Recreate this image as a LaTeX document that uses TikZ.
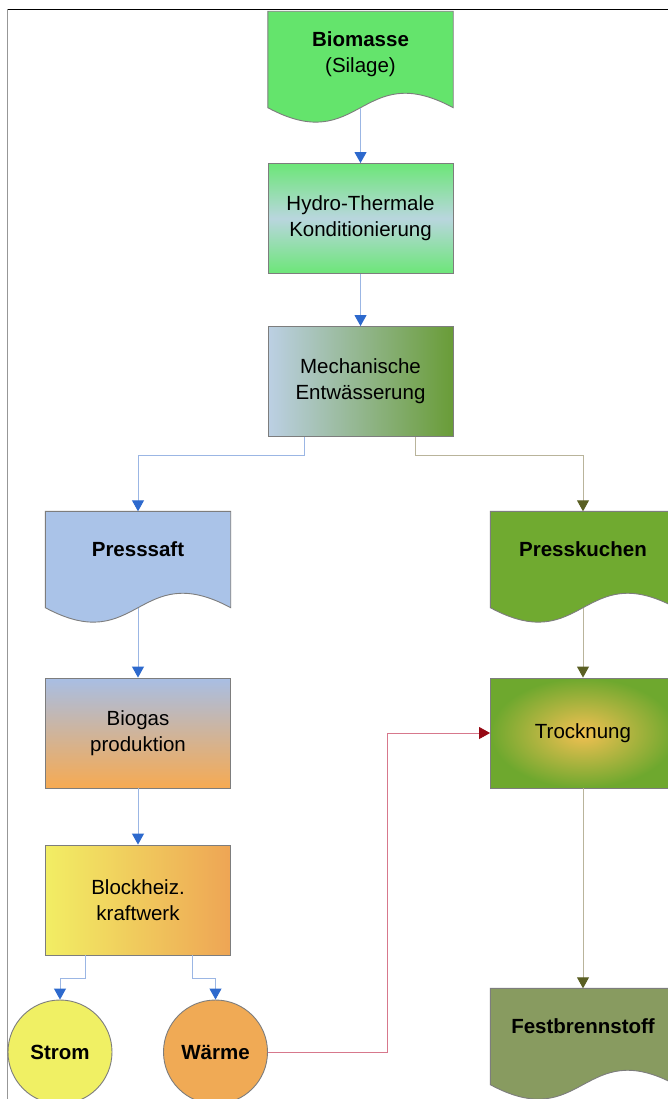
\documentclass[tikz,border=0pt]{standalone}
\usepackage{fontspec}
\setmainfont{Liberation Sans}
\usetikzlibrary{arrows.meta,calc,backgrounds}
\definecolor{boxgray}{RGB}{125,125,125}
\definecolor{lineblue}{RGB}{155,182,228}
\definecolor{headblue}{RGB}{45,105,205}
\definecolor{lineolive}{RGB}{185,180,155}
\definecolor{headolive}{RGB}{90,95,35}
\definecolor{linered}{RGB}{215,120,140}
\definecolor{headred}{RGB}{150,8,20}
\definecolor{biogreen}{RGB}{100,228,108}
\definecolor{hydgreen}{RGB}{108,230,120}
\definecolor{hydmid}{RGB}{185,214,222}
\definecolor{mechblue}{RGB}{188,208,228}
\definecolor{mechgreen}{RGB}{105,156,55}
\definecolor{psblue}{RGB}{170,195,232}
\definecolor{pkgreen}{RGB}{112,170,48}
\definecolor{bgtop}{RGB}{168,190,228}
\definecolor{bgbot}{RGB}{246,170,82}
\definecolor{bhyellow}{RGB}{242,238,100}
\definecolor{bhorange}{RGB}{238,165,85}
\definecolor{stromyellow}{RGB}{240,240,100}
\definecolor{waermeorange}{RGB}{240,170,85}
\definecolor{trinner}{RGB}{242,192,82}
\definecolor{trouter}{RGB}{110,168,46}
\definecolor{fbolive}{RGB}{136,155,96}
\newcommand\mydocpath[2]{%
  \begin{scope}[on background layer]
    \filldraw[fill=#2, draw=boxgray, line width=0.9pt]
      (#1.north west) -- (#1.north east) -- (#1.south east)
      .. controls ($(#1.south)+(0,-50)$) and ($(#1.south)+(0,50)$) .. (#1.south west) -- cycle;
  \end{scope}}
\begin{document}
\begin{tikzpicture}[x=1pt,y=-1pt,
  every node/.style={font=\fontsize{20.5}{26}\selectfont, align=center, text=black},
  procbox/.style={draw=boxgray, line width=0.9pt, minimum width=185pt, minimum height=110pt, inner sep=0pt},
  docbox/.style={minimum width=185pt, minimum height=96pt, inner sep=0pt,
    font=\fontsize{20.5}{26}\selectfont\bfseries},
  endcirc/.style={circle, draw=boxgray, line width=0.9pt, minimum size=104pt, inner sep=0pt,
    font=\fontsize{20.5}{26}\selectfont\bfseries},
  bluearrow/.style={draw=lineblue, line width=0.9pt, -{Triangle[color=headblue,width=12pt,length=11pt]}},
  olivearrow/.style={draw=lineolive, line width=0.9pt, -{Triangle[color=headolive,width=12pt,length=11pt]}},
  redarrow/.style={draw=linered, line width=0.9pt, -{Triangle[color=headred,width=12pt,length=11pt]}},
]
\useasboundingbox (0,0) rectangle (668,1099);
\begin{scope}[on background layer]
  \fill[white] (0,0) rectangle (668,1099);
\end{scope}
% frame lines
\draw[black, line width=1.1pt] (7,9.5) -- (668,9.5);
\draw[boxgray!80, line width=1pt] (7,9.5) -- (7,1099);

% top column
\node[docbox, text depth=14pt] (bio) at (360.5,59.5) {Biomasse\\\mdseries(Silage)};
\mydocpath{bio}{biogreen}
\node[procbox, top color=hydgreen, bottom color=hydgreen, middle color=hydmid] (hyd) at (360.5,218.5) {Hydro-Thermale\\Konditionierung};
\node[procbox, left color=mechblue, right color=mechgreen] (mech) at (360.5,381.5) {Mechanische\\Entwässerung};

% left column
\node[docbox, text depth=20pt] (ps) at (138,559.5) {Presssaft};
\mydocpath{ps}{psblue}
\node[procbox, top color=bgtop, bottom color=bgbot] (bg) at (138,733) {Biogas\\produktion};
\node[procbox, left color=bhyellow, right color=bhorange] (bhk) at (138,900) {Blockheiz.\\kraftwerk};
\node[endcirc, fill=stromyellow] (strom) at (60,1052) {Strom};
\node[endcirc, fill=waermeorange] (waerme) at (215.5,1052) {Wärme};

% right column
\node[docbox, text depth=20pt] (pk) at (583,559.5) {Presskuchen};
\mydocpath{pk}{pkgreen}
\node[procbox, inner color=trinner, outer color=trouter] (tr) at (583,733) {Trocknung};
\node[docbox, text depth=20pt] (fb) at (583,1036.5) {Festbrennstoff};
\mydocpath{fb}{fbolive}

% connectors
\draw[bluearrow] (bio.south) -- (hyd.north);
\draw[bluearrow] (hyd.south) -- (mech.north);
\draw[bluearrow] ($(mech.south west)!0.2!(mech.south east)$) -- ++(0,18) -| (ps.north);
\draw[olivearrow] ($(mech.south west)!0.795!(mech.south east)$) -- ++(0,18) -| (pk.north);
\draw[bluearrow] (ps.south) -- (bg.north);
\draw[bluearrow] (bg.south) -- (bhk.north);
\draw[bluearrow] ($(bhk.south west)!0.215!(bhk.south east)$) -- ++(0,23) -| (strom.north);
\draw[bluearrow] ($(bhk.south west)!0.795!(bhk.south east)$) -- ++(0,23) -| (waerme.north);
\draw[olivearrow] (pk.south) -- (tr.north);
\draw[olivearrow] (tr.south) -- (fb.north);
\draw[redarrow] (waerme.east) -- ++(119,0) |- (tr.west);
\end{tikzpicture}
\end{document}
